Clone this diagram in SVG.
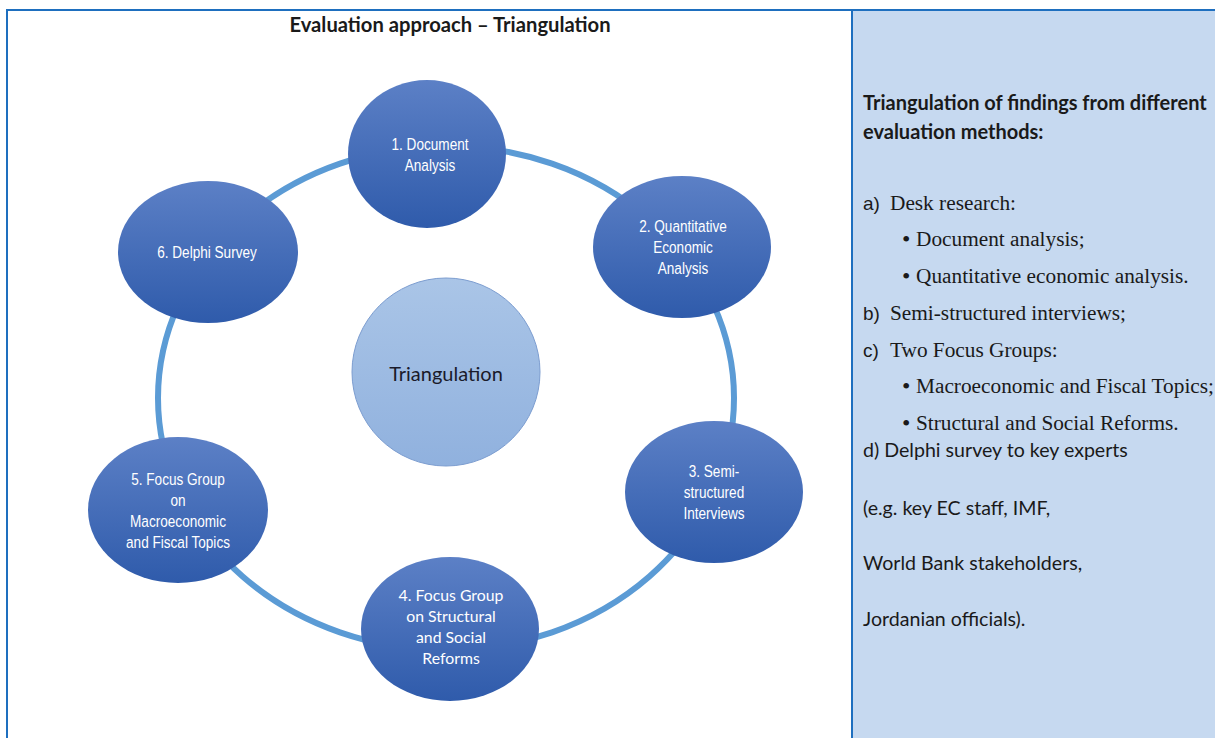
<svg xmlns="http://www.w3.org/2000/svg" width="1215" height="738" viewBox="0 0 1215 738">
<defs>
<linearGradient id="gNode" x1="0" y1="0" x2="0" y2="1">
<stop offset="0" stop-color="#5c80c6"/>
<stop offset="1" stop-color="#2f5bab"/>
</linearGradient>
<linearGradient id="gCenter" x1="0" y1="0" x2="0" y2="1">
<stop offset="0" stop-color="#aac5e7"/>
<stop offset="1" stop-color="#90b1de"/>
</linearGradient>
<style>
.node{fill:url(#gNode);}
.nt{font-family:"Liberation Sans",Arial,sans-serif;font-size:17px;fill:#ffffff;text-anchor:middle;}
.nt2{font-family:Lato,"Liberation Sans",sans-serif;font-size:15.8px;fill:#ffffff;text-anchor:middle;}
.cal{font-family:Lato,"Liberation Sans",sans-serif;font-size:19.6px;fill:#1a1a1a;}
.calb{font-family:Lato,"Liberation Sans",sans-serif;font-size:20px;font-weight:bold;fill:#1a1a1a;}
.tnr{font-family:"Liberation Serif",serif;font-size:21.3px;fill:#1a1a1a;}
.ari{font-family:"Liberation Sans",sans-serif;font-size:19px;fill:#1a1a1a;}
.bul{font-family:"Liberation Serif",serif;font-size:24px;fill:#1a1a1a;}
</style>
</defs>
<rect x="0" y="0" width="1215" height="738" fill="#ffffff"/>
<g id="panel">
<rect x="852" y="10" width="363" height="728" fill="#c6d9f0"/>
<line x1="6" y1="10" x2="1215" y2="10" stroke="#1e6fbf" stroke-width="2"/>
<line x1="7" y1="10" x2="7" y2="738" stroke="#1e6fbf" stroke-width="2"/>
<line x1="852" y1="10" x2="852" y2="738" stroke="#1e6fbf" stroke-width="2"/>
</g>
<g id="title">
<text x="450" y="32" text-anchor="middle" class="calb" style="font-size:20.2px">Evaluation approach – Triangulation</text>
</g>
<g id="connectors">
<ellipse cx="446" cy="398" rx="288" ry="252" fill="none" stroke="#5b9bd5" stroke-width="6"/>
</g>
<g id="center">
<circle cx="446" cy="372" r="94" fill="url(#gCenter)" stroke="#7c9dd0" stroke-width="1"/>
<text x="446" y="381" text-anchor="middle" font-family="Lato, 'Liberation Sans', sans-serif" font-size="20" fill="#1a1a2a">Triangulation</text>
</g>
<g id="node1">
<ellipse class="node" cx="427" cy="154" rx="79" ry="74"/>
<g transform="translate(430 0) scale(0.8 1)">
<text class="nt" x="0" y="150">1. Document</text>
<text class="nt" x="0" y="171">Analysis</text>
</g>
</g>
<g id="node2">
<ellipse class="node" cx="682" cy="247" rx="89" ry="71"/>
<g transform="translate(683 0) scale(0.8 1)">
<text class="nt" x="0" y="232">2. Quantitative</text>
<text class="nt" x="0" y="253">Economic</text>
<text class="nt" x="0" y="274">Analysis</text>
</g>
</g>
<g id="node3">
<ellipse class="node" cx="714" cy="492" rx="89" ry="71"/>
<g transform="translate(714 0) scale(0.8 1)">
<text class="nt" x="0" y="477">3. Semi-</text>
<text class="nt" x="0" y="498">structured</text>
<text class="nt" x="0" y="519">Interviews</text>
</g>
</g>
<g id="node4">
<ellipse class="node" cx="450" cy="629" rx="89" ry="72"/>
<text class="nt2" x="451" y="601">4. Focus Group</text>
<text class="nt2" x="451" y="622">on Structural</text>
<text class="nt2" x="451" y="643">and Social</text>
<text class="nt2" x="451" y="664">Reforms</text>
</g>
<g id="node5">
<ellipse class="node" cx="178" cy="510" rx="90" ry="73"/>
<g transform="translate(178 0) scale(0.8 1)">
<text class="nt" x="0" y="485">5. Focus Group</text>
<text class="nt" x="0" y="506">on</text>
<text class="nt" x="0" y="527">Macroeconomic</text>
<text class="nt" x="0" y="548">and Fiscal Topics</text>
</g>
</g>
<g id="node6">
<ellipse class="node" cx="208" cy="252" rx="90" ry="71"/>
<g transform="translate(207 0) scale(0.8 1)">
<text class="nt" x="0" y="258">6. Delphi Survey</text>
</g>
</g>
<g id="legend">
<text class="calb" x="863" y="110">Triangulation of findings from different</text>
<text class="calb" x="863" y="139">evaluation methods:</text>
<text class="ari" x="863" y="210">a)</text><text class="tnr" x="890" y="210">Desk research:</text>
<text class="bul" x="902" y="247">•</text><text class="tnr" x="916" y="246">Document analysis;</text>
<text class="bul" x="902" y="284">•</text><text class="tnr" x="916" y="283">Quantitative economic analysis.</text>
<text class="ari" x="863" y="320">b)</text><text class="tnr" x="890" y="320">Semi-structured interviews;</text>
<text class="ari" x="863" y="357">c)</text><text class="tnr" x="890" y="357">Two Focus Groups:</text>
<text class="bul" x="902" y="394">•</text><text class="tnr" x="916" y="393">Macroeconomic and Fiscal Topics;</text>
<text class="bul" x="902" y="431">•</text><text class="tnr" x="916" y="430">Structural and Social Reforms.</text>
<text class="cal" x="863" y="457">d) Delphi survey to key experts</text>
<text class="cal" x="863" y="515">(e.g. key EC staff, IMF,</text>
<text class="cal" x="863" y="570">World Bank stakeholders,</text>
<text class="cal" x="863" y="626">Jordanian officials).</text>
</g>
</svg>
